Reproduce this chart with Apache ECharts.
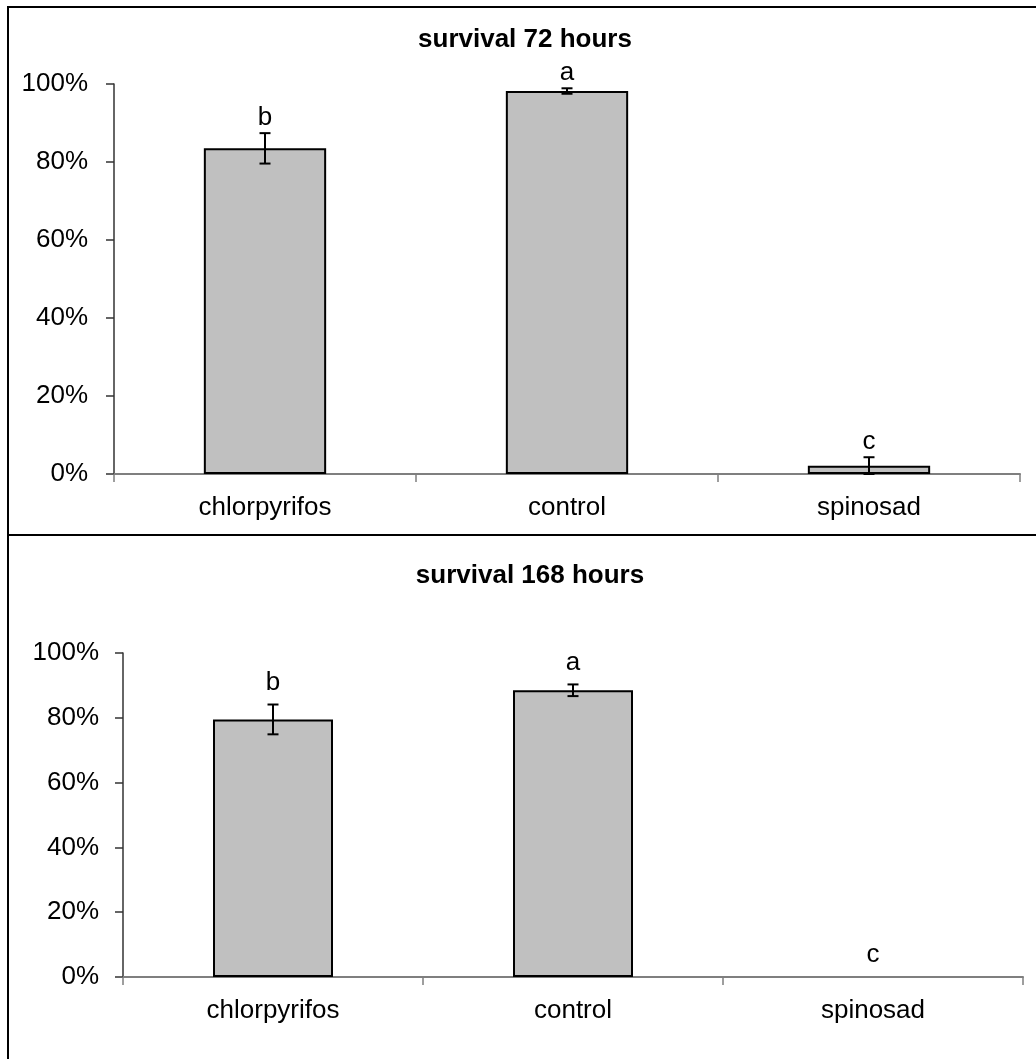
<!DOCTYPE html>
<html>
<head>
<meta charset="utf-8">
<script src="https://cdn.jsdelivr.net/npm/echarts@6/dist/echarts.min.js"></script>
<style>
html,body{margin:0;padding:0;background:#fff;}
#chart{width:1036px;height:1059px;}
</style>
</head>
<body>
<div id="chart"></div>
<script>
// ---- data ----
const categories = ['chlorpyrifos', 'control', 'spinosad'];
const yTickValues = [0, 20, 40, 60, 80, 100];
const title72 = 'survival 72 hours';
const survival72 = [83.5, 98.2, 2.1];
const error72 = [3.9, 0.7, 2.2];
const letters72 = ['b', 'a', 'c'];
const title168 = 'survival 168 hours';
const survival168 = [79.5, 88.5, 0];
const error168 = [4.6, 1.8, 0];
const letters168 = ['b', 'a', 'c'];

// ---- rendering ----
const FONT = '"Liberation Sans", Arial, sans-serif';
const chart = echarts.init(document.getElementById('chart'), null, {renderer: 'canvas'});

function errRenderer(letters, offset) {
  return function (params, api) {
    const i = params.dataIndex;
    const v = api.value(1);
    const e = api.value(2);
    const hi = api.coord([api.value(0), v + e]);
    const lo = api.coord([api.value(0), Math.max(0, v - e)]);
    const x = hi[0];
    const children = [];
    const ls = {stroke: '#000', lineWidth: 2};
    if (e > 0) {
      children.push({type: 'line', shape: {x1: x, y1: hi[1], x2: x, y2: lo[1]}, style: ls});
      children.push({type: 'line', shape: {x1: x - 5.5, y1: hi[1], x2: x + 5.5, y2: hi[1]}, style: ls});
      children.push({type: 'line', shape: {x1: x - 5.5, y1: lo[1], x2: x + 5.5, y2: lo[1]}, style: ls});
    }
    children.push({
      type: 'text',
      style: {
        text: letters[i], x: x, y: hi[1] - offset,
        align: 'center', verticalAlign: 'bottom',
        fontSize: 26, fontFamily: FONT, fill: '#000'
      }
    });
    return {type: 'group', children: children};
  };
}

function barData(values) {
  return values.map(function (v) {
    return v > 0 ? v : {value: v, itemStyle: {borderWidth: 0, color: 'transparent'}};
  });
}

function xAxisCfg(gridIndex) {
  return {
    type: 'category', gridIndex: gridIndex, data: categories,
    axisLine: {show: true, lineStyle: {color: '#7f7f7f', width: 2}},
    axisTick: {show: true, inside: false, length: 8, lineStyle: {color: '#7f7f7f', width: 1.5}},
    axisLabel: {color: '#000', fontSize: 26, fontFamily: FONT, margin: 21},
    splitLine: {show: false}
  };
}
function yAxisCfg(gridIndex, margin) {
  return {
    type: 'value', gridIndex: gridIndex, min: 0, max: 100, interval: 20,
    axisLine: {show: true, lineStyle: {color: '#333', width: 1.5}},
    axisTick: {show: true, inside: false, length: 8, lineStyle: {color: '#333', width: 1.5}},
    axisLabel: {color: '#000', fontSize: 26, fontFamily: FONT, margin: margin,
      formatter: function (v) { return yTickValues.indexOf(v) >= 0 ? v + '%' : ''; }},
    splitLine: {show: false}
  };
}

const option = {
  animation: false,
  backgroundColor: '#fff',
  graphic: [
    {type: 'rect', shape: {x: 8, y: 7, width: 1100, height: 528}, style: {fill: 'none', stroke: '#000', lineWidth: 2}, z: 100},
    {type: 'rect', shape: {x: 8, y: 535, width: 1100, height: 600}, style: {fill: 'none', stroke: '#000', lineWidth: 2}, z: 100},
    {type: 'text', x: 525, y: 40, style: {text: title72, align: 'center', verticalAlign: 'middle', fontSize: 26, fontWeight: 'bold', fontFamily: FONT, fill: '#000'}},
    {type: 'text', x: 530, y: 576, style: {text: title168, align: 'center', verticalAlign: 'middle', fontSize: 26, fontWeight: 'bold', fontFamily: FONT, fill: '#000'}}
  ],
  grid: [
    {left: 114, right: 16, top: 84, height: 390},
    {left: 123, right: 13, top: 653, height: 324}
  ],
  xAxis: [xAxisCfg(0), xAxisCfg(1)],
  yAxis: [yAxisCfg(0, 26), yAxisCfg(1, 24)],
  series: [
    {type: 'bar', xAxisIndex: 0, yAxisIndex: 0, data: barData(survival72), barWidth: '40.5%',
      itemStyle: {color: '#c0c0c0', borderColor: '#000', borderWidth: 2}},
    {type: 'bar', xAxisIndex: 1, yAxisIndex: 1, data: barData(survival168), barWidth: '40%',
      itemStyle: {color: '#c0c0c0', borderColor: '#000', borderWidth: 2}},
    {type: 'custom', xAxisIndex: 0, yAxisIndex: 0, z: 10,
      data: categories.map((c, i) => [i, survival72[i], error72[i]]),
      encode: {x: 0, y: 1}, renderItem: errRenderer(letters72, 2)},
    {type: 'custom', xAxisIndex: 1, yAxisIndex: 1, z: 10,
      data: categories.map((c, i) => [i, survival168[i], error168[i]]),
      encode: {x: 0, y: 1}, renderItem: errRenderer(letters168, 9)}
  ]
};
chart.setOption(option);
</script>
</body>
</html>
